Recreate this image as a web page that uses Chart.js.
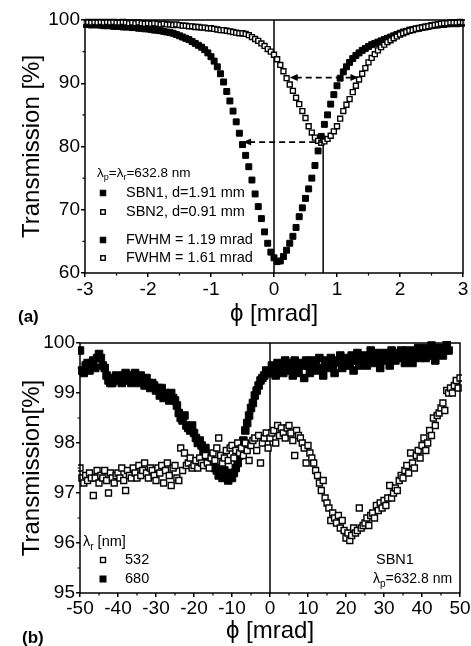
<!DOCTYPE html>
<html>
<head>
<meta charset="utf-8">
<script src="https://cdn.jsdelivr.net/npm/chart.js@4.4.1/dist/chart.umd.min.js"></script>
<style>
  html, body { margin: 0; padding: 0; background: #fff; }
  #wrap { position: relative; width: 471px; height: 646px; }
  #wrap canvas { position: absolute; left: 0; }
</style>
</head>
<body>
<div id="wrap">
  <canvas id="panelA" width="471" height="330" style="top:0"></canvas>
  <canvas id="panelB" width="471" height="316" style="top:330px"></canvas>
</div>
<script>
// ---- panel (a): transmission vs angle, two SBN crystals (sampled every 0.05 mrad from -3)
const phiAStart = -3, phiAStep = 0.05;
const sbn1 = [
  99.3, 99.3, 99.2, 99.3, 99.2, 99.2, 99.1, 99.1, 99.1, 99.0,
  99.0, 99.0, 98.9, 98.9, 98.9, 98.8, 98.8, 98.7, 98.7, 98.6,
  98.6, 98.5, 98.4, 98.4, 98.3, 98.2, 98.1, 98.0, 97.9, 97.7,
  97.5, 97.3, 97.1, 96.9, 96.6, 96.3, 96.0, 95.7, 95.3, 94.8,
  94.2, 93.5, 92.6, 91.5, 90.2, 88.7, 87.2, 85.6, 83.9, 82.1,
  80.3, 78.6, 76.8, 74.7, 72.5, 70.5, 68.6, 66.5, 64.7, 63.3,
  62.4, 61.8, 61.9, 62.6, 63.6, 64.7, 65.8, 67.2, 68.9, 70.3,
  71.8, 73.3, 75.0, 77.0, 79.3, 81.6, 83.5, 85.0, 86.7, 88.2,
  89.6, 90.8, 91.8, 92.6, 93.3, 93.9, 94.4, 94.8, 95.2, 95.5,
  95.8, 96.1, 96.3, 96.5, 96.7, 96.9, 97.1, 97.3, 97.5, 97.7,
  97.9, 98.1, 98.2, 98.4, 98.5, 98.6, 98.7, 98.8, 98.9, 99.0,
  99.1, 99.2, 99.2, 99.3, 99.3, 99.4, 99.4, 99.5, 99.4, 99.5,
  99.5
];
const sbn2 = [
  99.6, 99.7, 99.6, 99.7, 99.6, 99.7, 99.6, 99.7, 99.6, 99.7,
  99.6, 99.6, 99.7, 99.6, 99.5, 99.6, 99.5, 99.6, 99.5, 99.4,
  99.5, 99.4, 99.5, 99.4, 99.3, 99.4, 99.3, 99.3, 99.2, 99.3,
  99.2, 99.1, 99.1, 99.0, 99.0, 98.9, 98.9, 98.8, 98.8, 98.7,
  98.7, 98.6, 98.5, 98.4, 98.4, 98.3, 98.2, 98.1, 98.0, 97.9,
  97.9, 97.8, 97.6, 97.3, 97.0, 96.7, 96.3, 95.9, 95.4, 95.0,
  94.5, 93.8, 92.9, 91.9, 90.8, 89.8, 88.8, 87.7, 86.7, 85.6,
  84.5, 83.2, 82.2, 81.4, 80.9, 80.6, 80.8, 81.2, 81.7, 82.4,
  83.2, 84.4, 85.6, 86.6, 87.5, 88.6, 89.6, 90.6, 91.5, 92.4,
  93.3, 94.0, 94.6, 95.2, 95.7, 96.1, 96.5, 96.8, 97.1, 97.4,
  97.7, 97.9, 98.1, 98.3, 98.4, 98.6, 98.7, 98.8, 98.9, 99.0,
  99.1, 99.2, 99.3, 99.4, 99.5, 99.5, 99.6, 99.6, 99.6, 99.7,
  99.6
];
const legendA = ['SBN1, d=1.91 mm', 'SBN2, d=0.91 mm', 'FWHM = 1.19 mrad', 'FWHM = 1.61 mrad'];

// ---- panel (b): SBN1, probe at 532 and 680 nm (sampled every 0.5 mrad from -50)
const phiBStart = -50, phiBStep = 0.5;
const t532 = [
  97.5, 97.3, 97.2, 97.35, 97.25, 97.4, 97.3, 96.95, 97.3, 97.45,
  97.2, 97.35, 97.3, 97.45, 97.25, 97.0, 97.4, 97.3, 97.2, 97.35,
  97.4, 97.3, 97.5, 97.25, 97.05, 97.45, 97.35, 97.3, 97.5, 97.4,
  97.3, 97.55, 97.35, 97.45, 97.6, 97.4, 97.3, 97.5, 97.45, 97.35,
  97.25, 97.5, 97.4, 97.55, 97.2, 97.45, 97.6, 97.35, 97.15, 97.5,
  97.55, 97.3, 97.25, 97.9, 97.45, 97.8, 97.55, 97.6, 97.7, 97.5,
  97.55, 97.65, 97.5, 97.7, 97.6, 97.55, 97.75, 97.6, 97.5, 97.7,
  97.8, 97.65, 97.9, 98.1, 97.75, 97.6, 97.7, 97.85, 97.65, 97.9,
  97.95, 97.7, 97.85, 98.0, 97.8, 97.9, 97.75, 98.0, 97.85, 97.65,
  97.95, 98.05, 98.1, 97.85, 98.15, 97.6, 98.0, 98.1, 98.2, 97.9,
  98.1, 98.2, 98.25, 98.0, 98.35, 98.15, 98.3, 98.2, 98.1, 98.3,
  98.35, 98.2, 98.05, 97.75, 98.25, 98.15, 98.1, 98.0, 97.9, 97.6,
  97.95, 97.8, 97.7, 97.6, 97.45, 97.35, 97.2, 97.05, 97.25, 96.9,
  96.8, 96.7, 96.45, 96.6, 96.5, 96.4, 96.55, 96.3, 96.45, 96.25,
  96.1, 96.2, 96.05, 96.15, 96.3, 96.2, 96.25, 96.7, 96.3, 96.35,
  96.4, 96.5, 96.35, 96.55, 96.6, 96.5, 96.75, 96.65, 96.8, 96.7,
  96.85, 96.75, 96.9, 97.15, 96.9, 97.0, 97.1, 97.05, 97.25, 97.35,
  97.3, 97.45, 97.55, 97.4, 97.8, 97.6, 97.5, 97.75, 97.85, 97.7,
  97.95, 98.1, 97.85, 98.0, 98.25, 98.15, 98.5, 98.35, 98.55, 98.6,
  98.7, 98.8, 98.65, 99.05, 99.0, 99.1, 99.0, 99.15, 99.25, 99.1,
  99.3
];
const t680 = [
  99.85, 99.45, 99.4, 99.55, 99.6, 99.45, 99.6, 99.65, 99.5, 99.7,
  99.78, 99.7, 99.55, 99.5, 99.35, 99.25, 99.2, 99.2, 99.3, 99.35,
  99.25, 99.3, 99.2, 99.35, 99.4, 99.25, 99.3, 99.2, 99.35, 99.4,
  99.3, 99.2, 99.35, 99.25, 99.15, 99.3, 99.2, 99.1, 99.2, 99.15,
  99.05, 99.1, 98.95, 99.1, 98.9, 99.0, 98.95, 98.85, 99.0, 98.9,
  98.85, 98.75, 98.6, 98.5, 98.45, 98.55, 98.35, 98.3, 98.25, 98.35,
  98.2, 98.1, 98.0, 98.05, 97.95, 97.85, 97.9, 97.75, 97.7, 97.65,
  97.6, 97.5, 97.45, 97.35, 97.4, 97.3, 97.45, 97.35, 97.25, 97.4,
  97.3, 97.4, 97.5, 97.6, 97.75, 97.9, 98.05, 98.25, 98.4, 98.55,
  98.7, 98.8, 98.95, 99.05, 99.15, 99.25, 99.3, 99.35, 99.45, 99.4,
  99.4, 99.55, 99.5, 99.35, 99.6, 99.45, 99.55, 99.4, 99.65, 99.5,
  99.45, 99.6, 99.35, 99.65, 99.5, 99.4, 99.6, 99.55, 99.3, 99.65,
  99.55, 99.4, 99.65, 99.5, 99.6, 99.45, 99.7, 99.5, 99.35, 99.6,
  99.65, 99.5, 99.7, 99.55, 99.4, 99.65, 99.6, 99.75, 99.5, 99.65,
  99.55, 99.7, 99.6, 99.75, 99.45, 99.65, 99.8, 99.55, 99.7, 99.6,
  99.75, 99.55, 99.7, 99.85, 99.6, 99.75, 99.65, 99.8, 99.5, 99.75,
  99.65, 99.8, 99.7, 99.55, 99.85, 99.75, 99.65, 99.8, 99.7, 99.85,
  99.75, 99.6, 99.85, 99.7, 99.8, 99.6, 99.85, 99.75, 99.9, 99.7,
  99.8, 99.9, 99.7, 99.85, 99.75, 99.95, 99.8, 99.65, 99.9, 99.8,
  99.9, 99.75, 99.85, 100.0, 99.85
];

const FONT = '"Liberation Sans", Arial, Helvetica, sans-serif';
Chart.defaults.font.family = FONT;
Chart.defaults.color = '#000';
Chart.defaults.animation = false;

function points(start, step, values) {
  return values.map((v, i) => ({ x: Math.round((start + i * step) * 1000) / 1000, y: v }));
}

function filledStyle(r) {
  return { pointStyle: 'rect', pointRadius: r, pointHoverRadius: r,
           backgroundColor: '#000', borderColor: '#000', borderWidth: 1, showLine: false };
}
function openStyle(r) {
  return { pointStyle: 'rect', pointRadius: r, pointHoverRadius: r,
           backgroundColor: '#fff', borderColor: '#000', borderWidth: 1.4, showLine: false };
}

function axis(min, max, step, title, fit, horizontal, tickPad, titlePad) {
  return {
    type: 'linear', min, max,
    ticks: { stepSize: step, font: { size: 19 }, padding: tickPad, maxRotation: 0, autoSkip: false, color: '#000' },
    grid: { drawOnChartArea: false, tickLength: 4, color: '#000', lineWidth: 1.5 },
    border: { display: false },
    title: { display: true, text: title, font: { size: 24 }, color: '#000', padding: titlePad },
    afterFit(s) { if (horizontal) s.height = fit; else s.width = fit; }
  };
}

function marker(ctx, x, y, side, filled) {
  ctx.save();
  ctx.fillStyle = filled ? '#000' : '#fff';
  ctx.strokeStyle = '#000';
  ctx.lineWidth = filled ? 1 : 1.4;
  ctx.fillRect(x - side / 2, y - side / 2, side, side);
  ctx.strokeRect(x - side / 2, y - side / 2, side, side);
  ctx.restore();
}

function rich(ctx, x, y, parts, size) {
  let cx = x;
  ctx.textBaseline = 'middle';
  ctx.textAlign = 'left';
  ctx.fillStyle = '#000';
  for (const [t, sub] of parts) {
    const s = sub ? Math.round(size * 0.68) : size;
    ctx.font = s + 'px ' + FONT;
    ctx.fillText(t, cx, sub ? y + size * 0.35 : y);
    cx += ctx.measureText(t).width;
  }
}

function arrowHead(ctx, x, y, dir) {
  ctx.beginPath();
  ctx.moveTo(x, y);
  ctx.lineTo(x - dir * 8, y - 3.5);
  ctx.lineTo(x - dir * 8, y + 3.5);
  ctx.closePath();
  ctx.fill();
}

function dashedArrow(chart, x1, x2, yv, headLeft, headRight) {
  const { ctx, scales: { x, y } } = chart;
  const px1 = x.getPixelForValue(x1), px2 = x.getPixelForValue(x2), py = y.getPixelForValue(yv);
  ctx.save();
  ctx.strokeStyle = '#000';
  ctx.fillStyle = '#000';
  ctx.lineWidth = 1.7;
  ctx.setLineDash([6, 4]);
  ctx.beginPath();
  ctx.moveTo(px1 + (headLeft ? 6 : 0), py);
  ctx.lineTo(px2 - (headRight ? 6 : 0), py);
  ctx.stroke();
  ctx.setLineDash([]);
  if (headLeft) arrowHead(ctx, px1, py, -1);
  if (headRight) arrowHead(ctx, px2, py, 1);
  ctx.restore();
}

function vline(chart, xv, yFrom, yTo) {
  const { ctx, scales: { x, y } } = chart;
  const px = x.getPixelForValue(xv);
  ctx.save();
  ctx.strokeStyle = '#000';
  ctx.lineWidth = 1.5;
  ctx.beginPath();
  ctx.moveTo(px, y.getPixelForValue(yFrom));
  ctx.lineTo(px, y.getPixelForValue(yTo));
  ctx.stroke();
  ctx.restore();
}

function frameAndMinor(chart, xMinor, yMinor) {
  const { ctx, chartArea: a, scales: { x, y } } = chart;
  ctx.save();
  ctx.strokeStyle = '#000';
  ctx.lineWidth = 1.5;
  ctx.strokeRect(a.left, a.top, a.right - a.left, a.bottom - a.top);
  ctx.lineWidth = 1.2;
  ctx.beginPath();
  for (let v = x.min + xMinor; v < x.max; v += 2 * xMinor) {
    const px = x.getPixelForValue(v);
    ctx.moveTo(px, a.bottom);
    ctx.lineTo(px, a.bottom + 2.5);
  }
  for (let v = y.min + yMinor; v < y.max; v += 2 * yMinor) {
    const py = y.getPixelForValue(v);
    ctx.moveTo(a.left, py);
    ctx.lineTo(a.left - 2.5, py);
  }
  ctx.stroke();
  ctx.restore();
}

function panelLabel(ctx, text, x, y) {
  ctx.save();
  ctx.font = 'bold 17px ' + FONT;
  ctx.textBaseline = 'middle';
  ctx.textAlign = 'left';
  ctx.fillStyle = '#000';
  ctx.fillText(text, x, y);
  ctx.restore();
}

// ---------------- panel (a)
const overlayA = {
  id: 'overlayA',
  beforeDatasetsDraw(chart) {
    vline(chart, 0, 60, 100);
    vline(chart, 0.78, 60, 80.7);
  },
  afterDatasetsDraw(chart) {
    const ctx = chart.ctx;
    frameAndMinor(chart, 0.5, 5);
    dashedArrow(chart, -0.49, 0.78, 80.7, true, false);
    dashedArrow(chart, 0.25, 1.34, 90.9, true, true);
    ctx.save();
    rich(ctx, 97, 173, [['λ'], ['p', 1], ['=λ'], ['r', 1], ['=632.8 nm']], 13.5);
    const rows = [193, 212, 240, 258];
    const fills = [true, false, true, false];
    rows.forEach((ry, i) => {
      marker(ctx, 103, ry, fills[i] ? 5.5 : 4.5, fills[i]);
      rich(ctx, 126, ry, [[legendA[i]]], 14.5);
    });
    panelLabel(ctx, '(a)', 18, 317);
    ctx.restore();
  }
};

new Chart(document.getElementById('panelA'), {
  type: 'scatter',
  data: {
    datasets: [
      { label: 'SBN2', data: points(phiAStart, phiAStep, sbn2), order: 0, clip: 2, ...openStyle(3.5) },
      { label: 'SBN1', data: points(phiAStart, phiAStep, sbn1), order: 1, clip: 2, ...filledStyle(4.2) }
    ]
  },
  options: {
    responsive: false,
    devicePixelRatio: 1,
    layout: { autoPadding: false, padding: { left: 0, right: 8, top: 20, bottom: 0 } },
    plugins: { legend: { display: false }, tooltip: { enabled: false } },
    scales: {
      x: axis(-3, 3, 1, 'ϕ [mrad]', 57, true, 1, { top: 0, bottom: 1 }),
      y: axis(60, 100, 10, 'Transmission [%]', 85, false, 1, { top: 18, bottom: 0 })
    }
  },
  plugins: [overlayA]
});

// ---------------- panel (b)
const overlayB = {
  id: 'overlayB',
  beforeDatasetsDraw(chart) {
    vline(chart, 0, 95, 100);
  },
  afterDatasetsDraw(chart) {
    const ctx = chart.ctx;
    frameAndMinor(chart, 5, 0.5);
    ctx.save();
    rich(ctx, 83, 212, [['λ'], ['r', 1], [' [nm]']], 14.5);
    marker(ctx, 103, 230, 5, false);
    rich(ctx, 125, 230, [['532']], 14.5);
    marker(ctx, 103, 249, 6, true);
    rich(ctx, 125, 249, [['680']], 14.5);
    rich(ctx, 376, 230, [['SBN1']], 14.5);
    rich(ctx, 373, 249, [['λ'], ['p', 1], ['=632.8 nm']], 14);
    panelLabel(ctx, '(b)', 22, 308);
    ctx.restore();
  }
};

new Chart(document.getElementById('panelB'), {
  type: 'scatter',
  data: {
    datasets: [
      { label: '532', data: points(phiBStart, phiBStep, t532), order: 0, clip: 2, ...openStyle(4.2) },
      { label: '680', data: points(phiBStart, phiBStep, t680), order: 1, clip: 2, ...filledStyle(5.3) }
    ]
  },
  options: {
    responsive: false,
    devicePixelRatio: 1,
    layout: { autoPadding: false, padding: { left: 0, right: 11, top: 13, bottom: 0 } },
    plugins: { legend: { display: false }, tooltip: { enabled: false } },
    scales: {
      x: axis(-50, 50, 10, 'ϕ [mrad]', 53, true, 0, { top: 0, bottom: 0 }),
      y: axis(95, 100, 1, 'Transmission[%]', 80, false, 1, { top: 18, bottom: 0 })
    }
  },
  plugins: [overlayB]
});
</script>
</body>
</html>
